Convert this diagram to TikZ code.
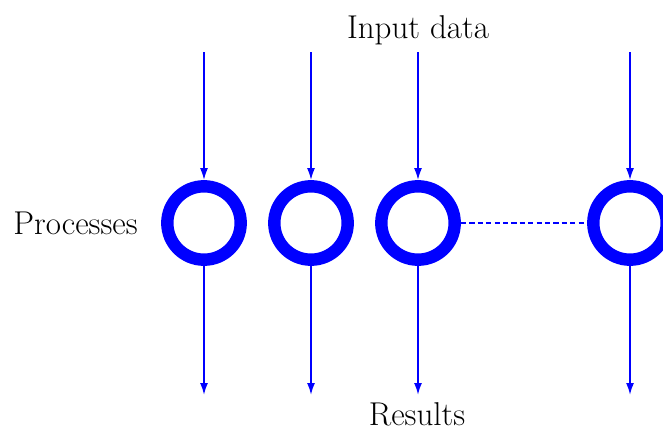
\RequirePackage{fix-cm}
\documentclass[tikz,border=0pt]{standalone}
\usetikzlibrary{arrows.meta}
\begin{document}
\begin{tikzpicture}[x=0.5pt,y=-0.5pt,
  proc/.style={circle,draw=blue,line width=6.2pt,minimum size=36.7pt,inner sep=0pt},
  flow/.style={draw=blue,line width=0.9pt,-{Latex[length=6pt,width=4pt]}},
  link/.style={draw=blue,line width=0.8pt,dash pattern=on 2.6pt off 1.6pt},
  lbl/.style={font=\fontsize{16.5}{20}\selectfont,inner sep=0pt}]
  \useasboundingbox (0,0) rectangle (663,428);
  % processes
  \node[proc] (p1) at (204,223) {};
  \node[proc] (p2) at (311,223) {};
  \node[proc] (p3) at (418,223) {};
  \node[proc] (p4) at (630,223) {};
  % labels
  \node[lbl] (in) at (418,30) {Input data};
  \node[lbl] (out) at (417,414) {Results};
  \node[lbl,anchor=east] (procs) at (138,223) {Processes};
  % input and output ends
  \foreach \i/\x in {1/204,2/311,3/418,4/630}{
    \coordinate (t\i) at (\x,52);
    \coordinate (b\i) at (\x,395);
    \draw[flow] (t\i) -- (p\i.north);
    \draw[flow] (p\i.south) -- (b\i);
  }
  \draw[link] (p3.east) -- (p4.west);
\end{tikzpicture}
\end{document}
